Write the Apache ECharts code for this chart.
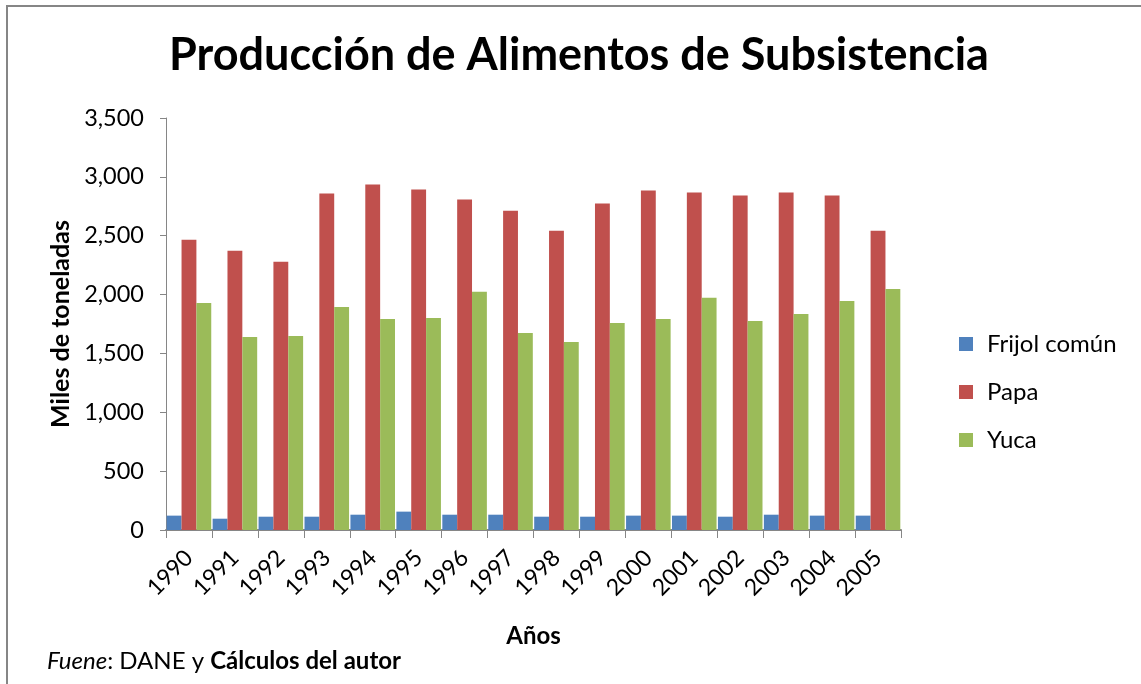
<!DOCTYPE html>
<html>
<head>
<meta charset="utf-8">
<script src="https://cdn.jsdelivr.net/npm/echarts@6/dist/echarts.min.js"></script>
<style>
html,body{margin:0;padding:0;background:#fff;}
#c{width:1141px;height:684px;}
</style>
</head>
<body>
<div id="c"></div>
<script>
var years = ['1990','1991','1992','1993','1994','1995','1996','1997','1998','1999','2000','2001','2002','2003','2004','2005'];
var frijol = [122, 96, 113, 113, 130, 156, 130, 130, 113, 113, 122, 122, 113, 130, 122, 122];
var papa   = [2466, 2372, 2278, 2858, 2935, 2892, 2807, 2713, 2543, 2773, 2884, 2867, 2841, 2867, 2841, 2543];
var yuca   = [1929, 1639, 1648, 1895, 1793, 1801, 2023, 1673, 1597, 1759, 1793, 1972, 1776, 1835, 1946, 2048];
var seriesNames = ['Frijol común', 'Papa', 'Yuca'];

var FONT = 'Lato, "Open Sans", sans-serif';
var chart = echarts.init(document.getElementById('c'), null, {renderer: 'canvas'});
chart.setOption({
  animation: false,
  backgroundColor: '#ffffff',
  color: ['#4F81BD', '#C0504D', '#9BBB59'],
  title: {
    text: 'Producción de Alimentos de Subsistencia',
    left: 574, top: 28, textAlign: 'center',
    textStyle: {fontFamily: FONT, fontSize: 45, fontWeight: 'bold', color: '#000'}
  },
  legend: {
    orient: 'vertical',
    left: 954, top: 327,
    itemWidth: 14, itemHeight: 14, itemGap: 24,
    icon: 'rect',
    textStyle: {fontFamily: FONT, fontSize: 24, color: '#000', padding: [0,0,0,9]},
    data: seriesNames
  },
  grid: {left: 166, right: 240, top: 118, bottom: 154, containLabel: false},
  xAxis: {
    type: 'category',
    data: years,
    boundaryGap: true,
    name: 'Años',
    nameLocation: 'middle',
    nameGap: 94,
    nameTextStyle: {fontFamily: FONT, fontSize: 24, fontWeight: 'bold', color: '#000'},
    axisLine: {lineStyle: {color: '#868686', width: 2}},
    axisTick: {show: true, length: 8, alignWithLabel: false, lineStyle: {color: '#868686', width: 1}},
    axisLabel: {rotate: 45, margin: 24, fontFamily: FONT, fontSize: 23, color: '#000'},
    splitLine: {show: false}
  },
  yAxis: {
    type: 'value',
    min: 0, max: 3500, interval: 500,
    name: 'Miles de toneladas',
    nameLocation: 'middle',
    nameGap: 92,
    nameTextStyle: {fontFamily: FONT, fontSize: 25, fontWeight: 'bold', color: '#000'},
    axisLine: {show: true, lineStyle: {color: '#868686', width: 1}},
    axisTick: {show: true, length: 6, lineStyle: {color: '#868686'}},
    axisLabel: {margin: 22, fontFamily: FONT, fontSize: 23.5, color: '#000',
      formatter: function (v) { return v.toLocaleString('en-US'); }},
    splitLine: {show: false}
  },
  series: [
    {name: seriesNames[0], type: 'bar', data: frijol, barGap: '0%', barCategoryGap: '3%'},
    {name: seriesNames[1], type: 'bar', data: papa, barGap: '0%', barCategoryGap: '3%'},
    {name: seriesNames[2], type: 'bar', data: yuca, barGap: '0%', barCategoryGap: '3%'}
  ],
  graphic: [
    {type: 'rect', shape: {x: 7, y: 6, width: 1200, height: 800}, style: {fill: 'none', stroke: '#868686', lineWidth: 2}, silent: true},
    {type: 'text', left: 47, top: 649, style: {
      text: '{i|Fuene}{n|: DANE y }{b|Cálculos del autor}',
      rich: {
        i: {fontFamily: FONT, fontSize: 24, fontStyle: 'italic', fill: '#000'},
        n: {fontFamily: FONT, fontSize: 24, fill: '#000'},
        b: {fontFamily: FONT, fontSize: 24, fontWeight: 'bold', fill: '#000'}
      }
    }}
  ]
});
</script>
</body>
</html>
